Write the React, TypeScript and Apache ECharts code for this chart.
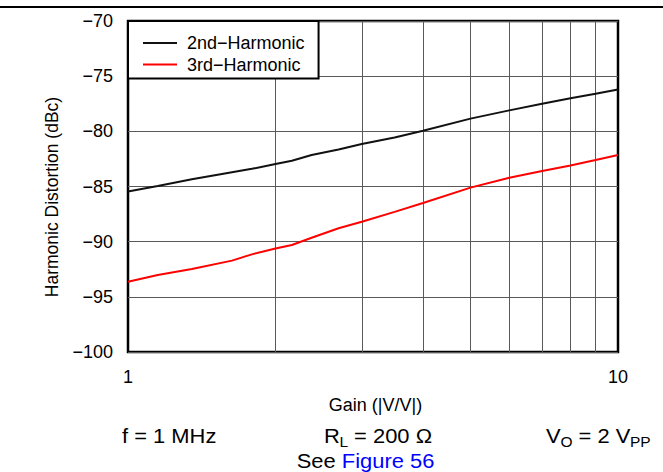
import React, { useEffect, useRef } from "react";
import * as echarts from "echarts";

const gain = [1, 1.15, 1.35, 1.63, 1.79, 2, 2.16, 2.37, 2.69, 3, 3.5, 4, 5, 6, 7, 8, 9, 10];
const secondHarmonic = [-85.45, -84.95, -84.35, -83.7, -83.4, -82.96, -82.66, -82.15, -81.65, -81.15, -80.55, -79.95, -78.85, -78.1, -77.5, -77.0, -76.6, -76.2];
const thirdHarmonic = [-93.63, -93.02, -92.48, -91.72, -91.15, -90.62, -90.3, -89.64, -88.79, -88.2, -87.3, -86.5, -85.1, -84.2, -83.6, -83.1, -82.6, -82.15];
const minorGridX = [2, 3, 4, 5, 6, 7, 8, 9];
const seriesNames = ["2nd\u2212Harmonic", "3rd\u2212Harmonic"];

const FONT = "Liberation Sans, Arial, Helvetica, sans-serif";

export default function App() {
  const ref = useRef<HTMLDivElement>(null);
  useEffect(() => {
    if (!ref.current) return;
    const chart = echarts.init(ref.current, undefined, { renderer: "svg" });
    const textBase = { fontFamily: FONT, fill: "#000" };
    const SX = 1.07;
    chart.setOption({
      animation: false,
      backgroundColor: "#fff",
      textStyle: { fontFamily: FONT },
      grid: {
        left: 128,
        top: 21,
        width: 490,
        height: 331,
        show: true,
        borderColor: "#000",
        borderWidth: 2.5,
        backgroundColor: "transparent",
      },
      legend: {
        left: 128,
        top: 21,
        orient: "vertical",
        data: seriesNames,
        backgroundColor: "#fff",
        borderColor: "#000",
        borderWidth: 2,
        padding: [13, 14, 5, 15],
        itemGap: 3.5,
        itemWidth: 34,
        itemHeight: 2,
        icon: "rect",
        textStyle: { fontSize: 18, color: "#000", fontFamily: FONT, padding: [0, 0, 0, 5] },
      },
      xAxis: {
        type: "log",
        logBase: 10,
        min: 1,
        max: 10,
        axisLine: { show: false },
        axisTick: { show: false },
        splitLine: { show: false },
        axisLabel: { fontSize: 18, color: "#000", margin: 16, fontFamily: FONT },
      },
      yAxis: {
        type: "value",
        min: -100,
        max: -70,
        interval: 5,
        axisLine: { show: false },
        axisTick: { show: false },
        splitLine: { show: true, lineStyle: { color: "#5a5a5a", width: 1 } },
        axisLabel: {
          fontSize: 18,
          color: "#000",
          margin: 15,
          fontFamily: FONT,
          formatter: (v: number) => String(v).replace("-", "\u2212"),
        },
      },
      series: [
        {
          name: seriesNames[0],
          type: "line",
          data: gain.map((g, i) => [g, secondHarmonic[i]]),
          symbol: "none",
          lineStyle: { color: "#111", width: 2 },
          itemStyle: { color: "#111" },
          z: 5,
          markLine: {
            silent: true,
            symbol: "none",
            label: { show: false },
            lineStyle: { color: "#5a5a5a", width: 1, type: "solid" },
            data: minorGridX.map((x) => ({ xAxis: x })),
            z: 1,
          },
        },
        {
          name: seriesNames[1],
          type: "line",
          data: gain.map((g, i) => [g, thirdHarmonic[i]]),
          symbol: "none",
          lineStyle: { color: "#ff0000", width: 2 },
          itemStyle: { color: "#ff0000" },
          z: 5,
        },
      ],
      graphic: [
        { type: "line", shape: { x1: 0, y1: 7, x2: 663, y2: 7 }, style: { stroke: "#000", lineWidth: 2 } },
        {
          type: "text",
          x: 52,
          y: 197,
          rotation: Math.PI / 2,
          style: { ...textBase, text: "Harmonic Distortion (dBc)", fontSize: 17.5, textAlign: "center", textVerticalAlign: "middle" },
        },
        {
          type: "text",
          x: 375.5,
          y: 405,
          style: { ...textBase, text: "Gain (|V/V|)", fontSize: 18, textAlign: "center", textVerticalAlign: "middle" },
        },
        { type: "text", x: 122, y: 436, scaleX: SX, style: { ...textBase, text: "f = 1 MHz", fontSize: 20.5, textVerticalAlign: "middle" } },
        { type: "text", x: 324, y: 436, scaleX: SX, style: { ...textBase, text: "R", fontSize: 20.5, textVerticalAlign: "middle" } },
        { type: "text", x: 339.5, y: 442, scaleX: SX, style: { ...textBase, text: "L", fontSize: 14.5, textVerticalAlign: "middle" } },
        { type: "text", x: 348, y: 436, scaleX: SX, style: { ...textBase, text: " = 200 \u03A9", fontSize: 20.5, textVerticalAlign: "middle" } },
        { type: "text", x: 546, y: 436, scaleX: SX, style: { ...textBase, text: "V", fontSize: 20.5, textVerticalAlign: "middle" } },
        { type: "text", x: 560.5, y: 442, scaleX: SX, style: { ...textBase, text: "O", fontSize: 14.5, textVerticalAlign: "middle" } },
        { type: "text", x: 572.5, y: 436, scaleX: SX, style: { ...textBase, text: " = 2 V", fontSize: 20.5, textVerticalAlign: "middle" } },
        { type: "text", x: 630, y: 442, scaleX: SX, style: { ...textBase, text: "PP", fontSize: 14.5, textVerticalAlign: "middle" } },
        {
          type: "text",
          x: 365.5,
          y: 461,
          scaleX: SX,
          style: {
            ...textBase,
            text: "{a|See }{b|Figure 56}",
            fontSize: 20.5,
            textAlign: "center",
            textVerticalAlign: "middle",
            rich: {
              a: { fontSize: 20.5, fill: "#000", fontFamily: FONT },
              b: { fontSize: 20.5, fill: "#0000ff", fontFamily: FONT },
            },
          },
        },
      ],
    });
    return () => chart.dispose();
  }, []);
  return <div ref={ref} style={{ width: 663, height: 472, position: "absolute", left: 0, top: 0 }} />;
}
